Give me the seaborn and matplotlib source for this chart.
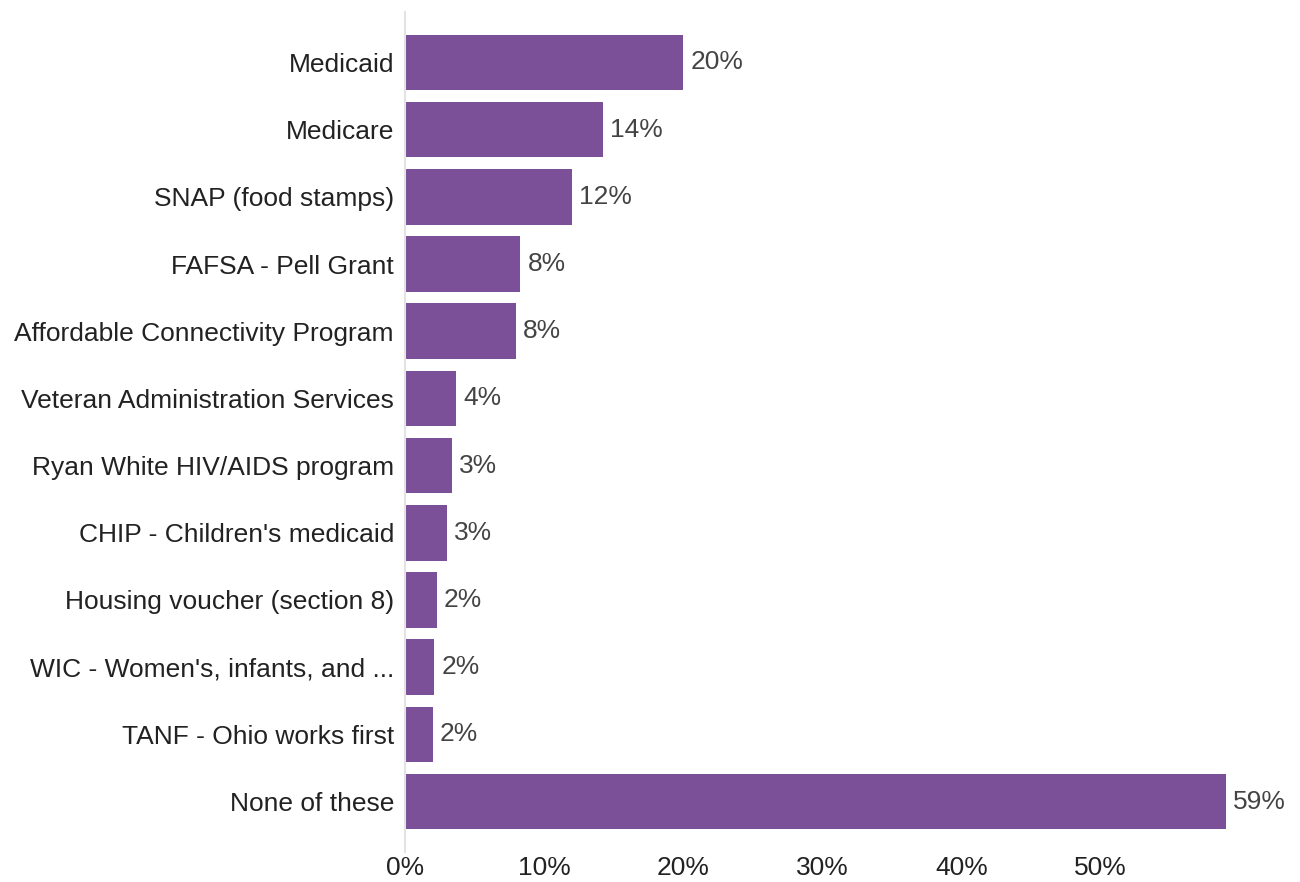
import matplotlib
matplotlib.use("Agg")
import matplotlib.pyplot as plt
import seaborn as sns

programs = ["Medicaid", "Medicare", "SNAP (food stamps)", "FAFSA - Pell Grant",
            "Affordable Connectivity Program", "Veteran Administration Services",
            "Ryan White HIV/AIDS program", "CHIP - Children's medicaid",
            "Housing voucher (section 8)", "WIC - Women's, infants, and ...",
            "TANF - Ohio works first", "None of these"]
shares = [20.0, 14.2, 12.0, 8.3, 8.0, 3.7, 3.4, 3.0, 2.3, 2.1, 2.0, 59.0]
xticks = [0, 10, 20, 30, 40, 50]

sns.set_style("white")
plt.rcParams["font.family"] = ["Liberation Sans", "DejaVu Sans"]

fig = plt.figure(figsize=(13, 8.82), dpi=100)
ax = fig.add_axes([405 / 1300, 30 / 882, (1226 - 405) / 1300, 840 / 882])

sns.barplot(x=shares, y=programs, color="#7b5098", saturation=1, width=0.83,
            orient="h", linewidth=0, ax=ax)
ax.bar_label(ax.containers[0], labels=[f"{v:.0f}%" for v in shares],
             padding=5, fontsize=19, color="#444444")
for t in ax.texts:
    t.set_y(t.get_position()[1])
    t.set_va("center")

ax.set_xlim(0, max(shares))
ax.set_ylim(len(programs) - 0.25, -0.75)
ax.set_xticks(xticks)
ax.set_xticklabels([f"{t}%" for t in xticks])
ax.tick_params(axis="x", length=0, pad=3, labelsize=19, labelcolor="#222222")
ax.tick_params(axis="y", length=0, pad=8, labelsize=19, labelcolor="#222222")
ax.set_xlabel("")
ax.set_ylabel("")

sns.despine(ax=ax, top=True, right=True, bottom=True, left=False)
ax.spines["left"].set_color("#e3e3e3")
ax.spines["left"].set_linewidth(1.5)

fig.savefig("out.png", dpi=100)
